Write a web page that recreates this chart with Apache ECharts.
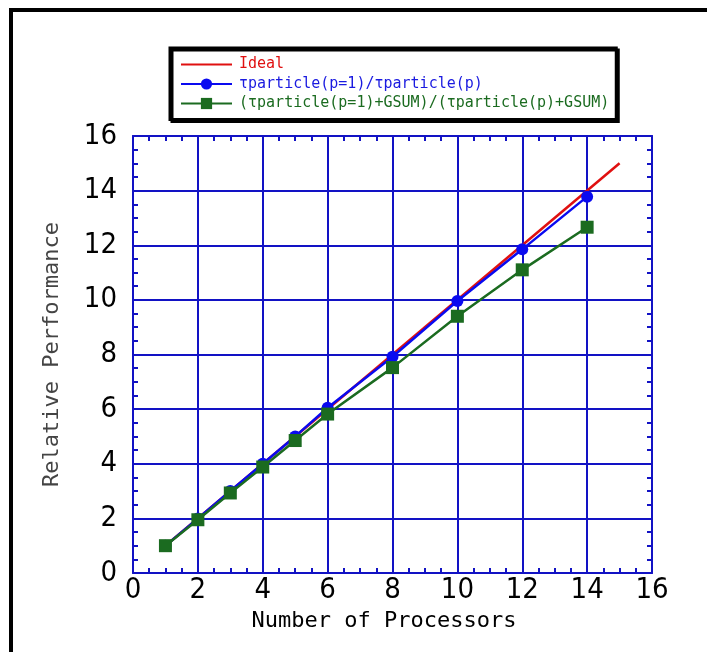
<!DOCTYPE html>
<html>
<head>
<meta charset="utf-8">
<script src="https://cdn.jsdelivr.net/npm/echarts@6/dist/echarts.min.js"></script>
<style>
html,body{margin:0;padding:0;background:#fff;}
#chart{width:707px;height:652px;}
</style>
</head>
<body>
<div id="chart"></div>
<script>
// ---- data ----
const seriesNames = [
  'Ideal',
  '\u03c4particle(p=1)/\u03c4particle(p)',
  '(\u03c4particle(p=1)+GSUM)/(\u03c4particle(p)+GSUM)'
];
const idealX = [1, 15];
const idealY = [1, 15];
const procX = [1, 2, 3, 4, 5, 6, 8, 10, 12, 14];
const particleY = [1, 2, 3, 4.0, 5.0, 6.05, 7.92, 9.96, 11.85, 13.78];
const gsumY = [1, 1.95, 2.93, 3.88, 4.85, 5.82, 7.52, 9.4, 11.1, 12.66];
const xTicks = [0, 2, 4, 6, 8, 10, 12, 14, 16];
const yTicks = [0, 2, 4, 6, 8, 10, 12, 14, 16];

const zip = (xs, ys) => xs.map((x, i) => [x, ys[i]]);

const gridBlue = '#1212c4';
const tickFont = '"Liberation Sans Narrow", "DejaVu Sans Condensed", "Liberation Sans", sans-serif';
const monoFont = '"DejaVu Sans Mono", "Liberation Mono", monospace';

const chart = echarts.init(document.getElementById('chart'), null, {renderer: 'canvas'});

const tick = {show: true, inside: true, length: 5, lineStyle: {color: gridBlue, width: 2}};
const minorTick = {show: true, splitNumber: 4, length: 5, lineStyle: {color: gridBlue, width: 2}};

const option = {
  backgroundColor: '#ffffff',
  animation: false,
  grid: {left: 133, right: 55, top: 136, bottom: 79, containLabel: false},
  legend: {
    orient: 'vertical',
    left: 170,
    top: 48,
    padding: [9, 7, 8.5, 10],
    itemWidth: 51,
    itemHeight: 14,
    itemGap: 4.5,
    backgroundColor: '#ffffff',
    borderColor: '#000000',
    borderWidth: 3,
    shadowColor: '#000000',
    shadowOffsetX: 2,
    shadowOffsetY: 2,
    shadowBlur: 0,
    textStyle: {fontFamily: monoFont, fontSize: 15, lineHeight: 14, padding: [0, 0, 0, 2]},
    data: [
      {name: seriesNames[0], itemStyle: {opacity: 0}, textStyle: {color: '#e01010'}},
      {name: seriesNames[1], textStyle: {color: '#1a1ae0'}},
      {name: seriesNames[2], textStyle: {color: '#1b6b20'}}
    ]
  },
  xAxis: [{
    type: 'value', position: 'bottom', min: 0, max: 16, interval: 2,
    name: 'Number of Processors', nameLocation: 'middle', nameGap: 32,
    nameTextStyle: {fontFamily: monoFont, fontSize: 22, color: '#000', padding: [0, 17, 0, 0]},
    axisLine: {show: true, onZero: false, lineStyle: {color: gridBlue, width: 2}},
    axisTick: Object.assign({}, tick),
    minorTick: Object.assign({}, minorTick),
    axisLabel: {margin: 3, fontFamily: tickFont, fontSize: 29, color: '#000',
      formatter: v => xTicks.includes(v) ? String(v) : ''},
    splitLine: {show: true, lineStyle: {color: gridBlue, width: 2}}
  }, {
    type: 'value', position: 'top', min: 0, max: 16, interval: 2,
    axisLine: {show: true, onZero: false, lineStyle: {color: gridBlue, width: 2}},
    axisTick: Object.assign({}, tick),
    minorTick: Object.assign({}, minorTick),
    axisLabel: {show: false},
    splitLine: {show: false}
  }],
  yAxis: [{
    type: 'value', position: 'left', min: 0, max: 16, interval: 2,
    name: 'Relative Performance', nameLocation: 'middle', nameGap: 70,
    nameTextStyle: {fontFamily: monoFont, fontSize: 22, color: '#444'},
    axisLine: {show: true, onZero: false, lineStyle: {color: gridBlue, width: 2}},
    axisTick: Object.assign({}, tick),
    minorTick: Object.assign({}, minorTick),
    axisLabel: {margin: 16, fontFamily: tickFont, fontSize: 29, color: '#000', padding: [0, 0, 8, 0],
      formatter: v => yTicks.includes(v) ? String(v) : ''},
    splitLine: {show: true, lineStyle: {color: gridBlue, width: 2}}
  }, {
    type: 'value', position: 'right', min: 0, max: 16, interval: 2,
    axisLine: {show: true, onZero: false, lineStyle: {color: gridBlue, width: 2}},
    axisTick: Object.assign({}, tick),
    minorTick: Object.assign({}, minorTick),
    axisLabel: {show: false},
    splitLine: {show: false}
  }],
  series: [{
    name: seriesNames[0], type: 'line', xAxisIndex: 0, yAxisIndex: 0,
    data: zip(idealX, idealY), symbol: 'none', showSymbol: false,
    lineStyle: {color: '#e01010', width: 2.5}, itemStyle: {color: '#e01010'}, z: 3
  }, {
    name: seriesNames[1], type: 'line', xAxisIndex: 0, yAxisIndex: 0,
    data: zip(procX, particleY), symbol: 'circle', symbolSize: 12,
    lineStyle: {color: '#0a0af0', width: 2.5}, itemStyle: {color: '#0a0af0'}, z: 4
  }, {
    name: seriesNames[2], type: 'line', xAxisIndex: 0, yAxisIndex: 0,
    data: zip(procX, gsumY), symbol: 'rect', symbolSize: 13,
    lineStyle: {color: '#1b6b20', width: 2.5}, itemStyle: {color: '#1b6b20'}, z: 5
  }],
  graphic: [{
    type: 'rect', silent: true, z: 100,
    shape: {x: 11, y: 10, width: 720, height: 680},
    style: {fill: null, stroke: '#000', lineWidth: 4}
  }]
};
chart.setOption(option);
</script>
</body>
</html>
